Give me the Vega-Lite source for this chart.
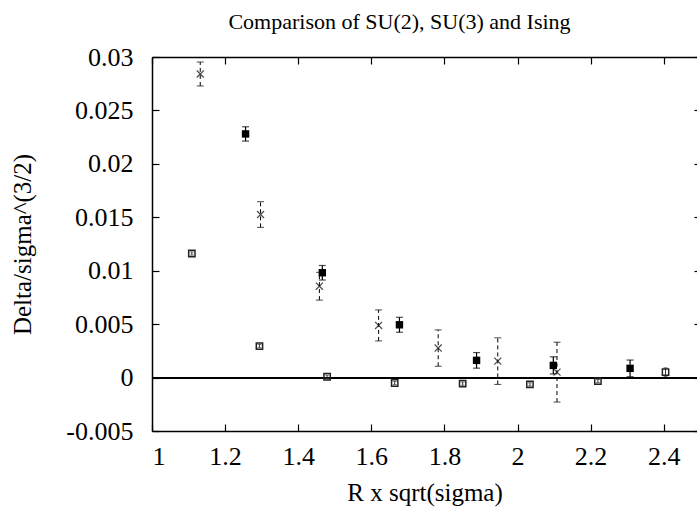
{
  "$schema": "https://vega.github.io/schema/vega-lite/v6.json",
  "width": 545,
  "height": 374,
  "autosize": {"type": "none"},
  "padding": {"left": 152, "top": 57, "right": 0, "bottom": 76},
  "background": "white",
  "config": {
    "view": {"stroke": null},
    "font": "Liberation Serif, DejaVu Serif, serif",
    "axis": {
      "grid": false,
      "labelFont": "Liberation Serif, DejaVu Serif, serif",
      "labelFontSize": 26,
      "labelColor": "black",
      "titleFont": "Liberation Serif, DejaVu Serif, serif",
      "titleFontSize": 25,
      "titleFontWeight": "normal",
      "titleColor": "black",
      "domainColor": "black",
      "domainWidth": 1.5,
      "tickColor": "black",
      "tickWidth": 1.2
    }
  },
  "title": {
    "text": "Comparison of SU(2), SU(3) and Ising",
    "font": "Liberation Serif, DejaVu Serif, serif",
    "fontSize": 22,
    "fontWeight": "normal",
    "color": "black",
    "anchor": "middle",
    "dx": -25,
    "offset": 10
  },
  "data": {
    "values": [
      {"series": "Ising", "x": 1.132, "y": 0.02841, "err": 0.00112},
      {"series": "Ising", "x": 1.297, "y": 0.01526, "err": 0.0012},
      {"series": "Ising", "x": 1.458, "y": 0.00855, "err": 0.0013},
      {"series": "Ising", "x": 1.620, "y": 0.00488, "err": 0.00145},
      {"series": "Ising", "x": 1.783, "y": 0.00276, "err": 0.0017},
      {"series": "Ising", "x": 1.946, "y": 0.00154, "err": 0.00218},
      {"series": "Ising", "x": 2.108, "y": 0.00051, "err": 0.0028},
      {"series": "SU(3)", "x": 1.256, "y": 0.0228, "err": 0.00067},
      {"series": "SU(3)", "x": 1.466, "y": 0.00981, "err": 0.00068},
      {"series": "SU(3)", "x": 1.677, "y": 0.00494, "err": 0.0007},
      {"series": "SU(3)", "x": 1.888, "y": 0.00161, "err": 0.00073},
      {"series": "SU(3)", "x": 2.098, "y": 0.00114, "err": 0.0008},
      {"series": "SU(3)", "x": 2.308, "y": 0.00086, "err": 0.00078},
      {"series": "SU(2)", "x": 1.109, "y": 0.01161, "err": 0.00015},
      {"series": "SU(2)", "x": 1.294, "y": 0.00295, "err": 0.00015},
      {"series": "SU(2)", "x": 1.479, "y": 0.00008, "err": 0.00015},
      {"series": "SU(2)", "x": 1.664, "y": -0.00051, "err": 0.00015},
      {"series": "SU(2)", "x": 1.850, "y": -0.00057, "err": 0.00015},
      {"series": "SU(2)", "x": 2.034, "y": -0.00064, "err": 0.00015},
      {"series": "SU(2)", "x": 2.220, "y": -0.00033, "err": 0.00015},
      {"series": "SU(2)", "x": 2.405, "y": 0.00051, "err": 0.0004}
    ]
  },
  "resolve": {"axis": {"x": "independent", "y": "independent"}},
  "layer": [
    {
      "mark": {"type": "rule", "color": "black", "strokeWidth": 1.2},
      "encoding": {
        "y": {"datum": 0, "type": "quantitative", "scale": {"domain": [-0.005, 0.03], "nice": false, "zero": false}, "axis": null}
      }
    },
    {
      "transform": [{"filter": "datum.series === 'Ising'"}],
      "mark": {"type": "errorbar", "color": "black", "ticks": {"size": 7}, "rule": {"strokeDash": [4, 3]}, "thickness": 1},
      "encoding": {
        "x": {
          "field": "x", "type": "quantitative",
          "scale": {"domain": [1, 2.4911], "nice": false, "zero": false},
          "axis": {
            "orient": "bottom",
            "values": [1, 1.2, 1.4, 1.6, 1.8, 2, 2.2, 2.4],
            "labelExpr": "'' + datum.value",
            "tickSize": -7,
            "labelPadding": 19,
            "title": "R x sqrt(sigma)",
            "titlePadding": 11
          }
        },
        "y": {
          "field": "y", "type": "quantitative",
          "scale": {"domain": [-0.005, 0.03], "nice": false, "zero": false},
          "axis": {
            "orient": "left",
            "values": [-0.005, 0, 0.005, 0.01, 0.015, 0.02, 0.025, 0.03],
            "labelExpr": "'' + datum.value",
            "tickSize": -7,
            "labelPadding": 26,
            "title": "Delta/sigma^(3/2)",
            "titlePadding": 30
          }
        },
        "yError": {"field": "err"}
      }
    },
    {
      "transform": [{"filter": "datum.series === 'Ising'"}],
      "mark": {"type": "point", "shape": "M-1,-1L1,1M1,-1L-1,1", "filled": false, "color": "black", "size": 50, "strokeWidth": 1.2},
      "encoding": {
        "x": {"field": "x", "type": "quantitative", "axis": null},
        "y": {"field": "y", "type": "quantitative", "axis": null}
      }
    },
    {
      "transform": [{"filter": "datum.series === 'SU(3)'"}],
      "mark": {"type": "errorbar", "color": "black", "ticks": {"size": 7}, "thickness": 1.2},
      "encoding": {
        "x": {"field": "x", "type": "quantitative", "axis": null},
        "y": {"field": "y", "type": "quantitative", "axis": null},
        "yError": {"field": "err"}
      }
    },
    {
      "transform": [{"filter": "datum.series === 'SU(3)'"}],
      "mark": {"type": "point", "shape": "square", "filled": true, "color": "black", "size": 55, "opacity": 1},
      "encoding": {
        "x": {"field": "x", "type": "quantitative", "axis": null},
        "y": {"field": "y", "type": "quantitative", "axis": null}
      }
    },
    {
      "transform": [{"filter": "datum.series === 'SU(2)'"}],
      "mark": {"type": "errorbar", "color": "#333333", "ticks": {"size": 4}, "thickness": 1},
      "encoding": {
        "x": {"field": "x", "type": "quantitative", "axis": null},
        "y": {"field": "y", "type": "quantitative", "axis": null},
        "yError": {"field": "err"}
      }
    },
    {
      "transform": [{"filter": "datum.series === 'SU(2)'"}],
      "mark": {"type": "point", "shape": "square", "filled": false, "color": "#222222", "size": 40, "strokeWidth": 1.5, "opacity": 1},
      "encoding": {
        "x": {
          "field": "x", "type": "quantitative",
          "axis": {
            "orient": "top",
            "values": [1, 1.2, 1.4, 1.6, 1.8, 2, 2.2, 2.4],
            "labels": false,
            "tickSize": -7,
            "title": null
          }
        },
        "y": {
          "field": "y", "type": "quantitative",
          "axis": {
            "orient": "right",
            "values": [-0.005, 0, 0.005, 0.01, 0.015, 0.02, 0.025, 0.03],
            "labels": false,
            "domain": false,
            "tickSize": -3,
            "title": null
          }
        }
      }
    }
  ]
}
